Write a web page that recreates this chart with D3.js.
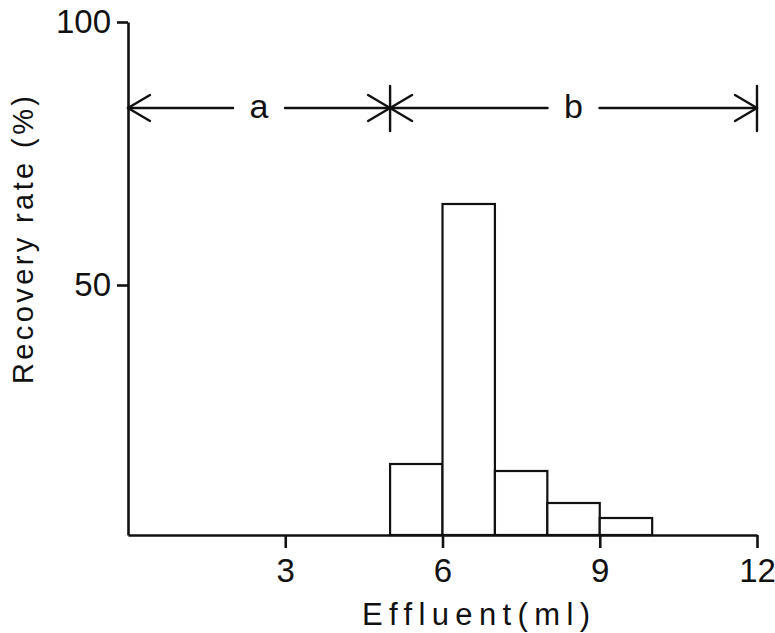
<!DOCTYPE html>
<html>
<head>
<meta charset="utf-8">
<script src="https://cdn.jsdelivr.net/npm/d3@7"></script>
<style>
  body { margin: 0; background: #fff; }
  #graf text { font-family: 'Liberation Sans', Arial, sans-serif; fill: #111; }
</style>
</head>
<body>
<div id="graf"></div>
<script>
// datos
bin_inicio = [5, 6, 7, 8, 9]
bin_fin    = [6, 7, 8, 9, 10]
recuperacion = [14.2, 65.4, 12.8, 6.4, 3.4]

xticks = [3, 6, 9, 12]
yticks = [50, 100]

// tramos a / b
tramo_nombre = ['a', 'b']
tramo_inicio = [0, 5]
tramo_fin    = [5, 12]

// configuración
ancho_total = 775
alto_total = 633

svg = d3.select('#graf').append('svg')
        .attr('width', ancho_total)
        .attr('height', alto_total)

x = d3.scaleLinear().domain([0, 12]).range([128, 757])
// el escaneo no es del todo lineal, 3 puntos de control
y = d3.scaleLinear().domain([0, 50, 100]).range([535, 285, 22])

// barras
svg.selectAll('rect.barra')
  .data(recuperacion)
  .enter()
  .append('rect')
    .attr('class', 'barra')
    .attr('x', (d, i) => x(bin_inicio[i]))
    .attr('y', d => y(d))
    .attr('width', (d, i) => x(bin_fin[i]) - x(bin_inicio[i]))
    .attr('height', d => y(0) - y(d))
    .attr('fill', '#fff')
    .attr('stroke', '#111')
    .attr('stroke-width', 2.2)

// ejes
xAxis = d3.axisBottom(x)
          .tickValues(xticks)
          .tickSize(13)
          .tickSizeOuter(0)
          .tickPadding(8)
yAxis = d3.axisLeft(y)
          .tickValues(yticks)
          .tickSize(11)
          .tickSizeOuter(0)
          .tickPadding(6)

gx = svg.append('g')
  .attr('transform', `translate(0,${y(0)})`)
  .call(xAxis)
gy = svg.append('g')
  .attr('transform', `translate(${x(0)},0)`)
  .call(yAxis)

svg.selectAll('.domain').attr('stroke', '#111').attr('stroke-width', 2.6)
svg.selectAll('.tick line').attr('stroke', '#111').attr('stroke-width', 2.6)
svg.selectAll('.tick text').attr('font-size', '33px').attr('fill', '#111')
gx.selectAll('.tick text').attr('dy', '0.8em')

// etiquetas de ejes
svg.append('text')
  .attr('x', 362)
  .attr('y', 625)
  .attr('font-size', '31px')
  .attr('textLength', 228)
  .attr('lengthAdjust', 'spacing')
  .text('Effluent(ml)')

svg.append('text')
  .attr('transform', 'translate(33,384) rotate(-90)')
  .attr('font-size', '29px')
  .attr('textLength', 288)
  .attr('lengthAdjust', 'spacing')
  .text('Recovery rate (%)')

// flechas de los tramos
ya = 108
punta = 22
abre = 13
linea = (x1, y1, x2, y2) => svg.append('line')
  .attr('x1', x1).attr('y1', y1).attr('x2', x2).attr('y2', y2)
  .attr('stroke', '#111').attr('stroke-width', 2.4)
  .attr('stroke-linecap', 'round')

tramo_nombre.forEach((nombre, i) => {
  x0 = x(tramo_inicio[i])
  x1 = x(tramo_fin[i])
  xm = (x0 + x1) / 2
  hueco = 26

  linea(x0, ya, xm - hueco, ya)
  linea(xm + hueco, ya, x1, ya)
  // punta izquierda
  linea(x0, ya, x0 + punta, ya - abre)
  linea(x0, ya, x0 + punta, ya + abre)
  // punta derecha
  linea(x1, ya, x1 - punta, ya - abre)
  linea(x1, ya, x1 - punta, ya + abre)
  // barra vertical al final
  linea(x1, ya - 22, x1, ya + 23)

  svg.append('text')
    .attr('x', xm)
    .attr('y', ya + 10)
    .attr('text-anchor', 'middle')
    .attr('font-size', '34px')
    .text(nombre)
})
</script>
</body>
</html>
